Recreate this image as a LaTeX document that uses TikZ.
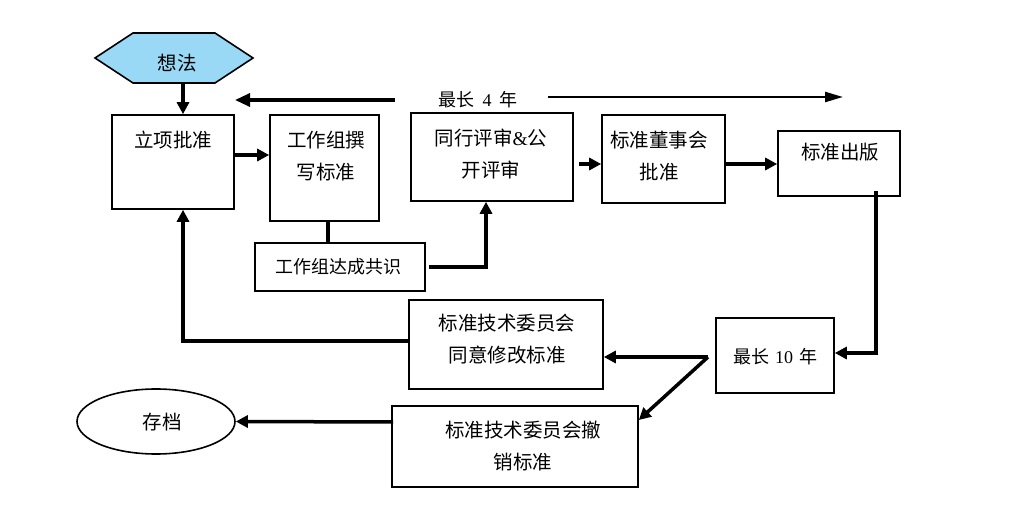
\documentclass[tikz,border=0pt]{standalone}
\usepackage{fontspec}
\setmainfont{Noto Sans CJK SC}
\newfontfamily\lat{Liberation Serif}
\usetikzlibrary{arrows.meta,shapes.geometric}
\definecolor{hexblue}{RGB}{153,217,245}
\begin{document}
\begin{tikzpicture}[x=1pt,y=-1pt,
  box/.style={draw, line width=1.6pt, inner sep=0pt},
  txt/.style={font=\fontsize{19.5}{32}\selectfont, align=center, inner sep=0pt},
  stxt/.style={font=\fontsize{18}{24}\selectfont, align=center, inner sep=0pt},
  tip/.style={-{Triangle[length=12pt,width=12pt]}},
  conn/.style={line width=3.5pt, tip},
  plain/.style={line width=3.5pt}]
\useasboundingbox (0,0) rectangle (1024,510);
% hexagon
\filldraw[fill=hexblue, line width=1.6pt, line join=miter]
  (95,58) -- (133,33) -- (215,33) -- (253,58) -- (215,83) -- (133,83) -- cycle;
\node[minimum width=158pt, minimum height=50pt, inner sep=0pt] (idea) at (174,58) {};
\node[txt] (ideat) at (177,63) {想法};
% boxes
\node[box, minimum width=122pt, minimum height=94pt] (lx) at (173,162) {};
\node[txt] (lxt) at (173,140) {立项批准};
\node[box, minimum width=109pt, minimum height=106pt] (gz) at (324.5,168) {};
\node[txt] (gzt) at (326,156) {工作组撰\\写标准};
\node[box, minimum width=170pt, minimum height=48pt] (gs) at (340,267) {};
\node[stxt] (gst) at (338,267) {工作组达成共识};
\node[box, minimum width=162pt, minimum height=88pt] (tp) at (492,157) {};
\node[txt] (tpt) at (491,154) {同行评审{\lat\&}公\\开评审};
\node[box, minimum width=123pt, minimum height=88pt] (dsh) at (663.5,159) {};
\node[txt] (dsht) at (659,156) {标准董事会\\批准};
\node[box, minimum width=122pt, minimum height=65pt] (cb) at (839,163.5) {};
\node[txt] (cbt) at (840,152) {标准出版};
\node[box, minimum width=118pt, minimum height=75pt] (zc) at (775,355.5) {};
\node[stxt] (zct) at (775,357) {最长\hspace{6pt}{\lat 10}\hspace{6pt}年};
\node[box, minimum width=194pt, minimum height=89pt] (ty) at (506,344.5) {};
\node[txt] (tyt) at (507,339) {标准技术委员会\\同意修改标准};
\node[box, minimum width=246pt, minimum height=81pt] (cx) at (515,446.5) {};
\node[txt] (cxt) at (523,446) {标准技术委员会撤\\销标准};
\node[draw, ellipse, line width=1.6pt, minimum width=158pt, minimum height=65pt, inner sep=0pt] (arc) at (156,421.5) {};
\node[txt] (arct) at (162,422) {存档};
% top span
\node[stxt] (span) at (478,100) {最长\hspace{8pt}{\lat 4}\hspace{8pt}年};
\coordinate (t1) at (395,100);
\coordinate (t2) at (235,100);
\coordinate (t3) at (548,97);
\coordinate (t4) at (843,97);
\draw[line width=3.2pt, -{Triangle[length=15pt,width=13pt]}] (t1) -- (t2);
\draw[line width=2.4pt, -{Triangle[length=18pt,width=10pt]}] (t3) -- (t4);
% connectors
\draw[conn] (idea.south -| 183,0) -- (lx.north -| 183,0);
\draw[conn] (lx.east |- 0,155) -- (gz.west |- 0,155);
\draw[plain] (gz.south -| 328,0) -- (gs.north -| 328,0);
\draw[conn] ([xshift=3pt]gs.east) -| (tp.south -| 486,0);
\draw[conn] ([xshift=5pt]tp.east |- 0,164) -- (dsh.west |- 0,164);
\draw[conn] (dsh.east |- 0,164) -- (cb.west |- 0,164);
\draw[conn] ([yshift=6pt]cb.south -| 876,0) |- (zc.east |- 0,353);
\coordinate (jn) at (708,357);
\draw[conn] (jn) -- (ty.east |- jn);
\draw[conn] (jn) -- (cx.east |- 0,420);
\draw[conn] (ty.west |- 0,341) -| (lx.south -| 183,0);
\draw[conn] ([xshift=2pt]cx.west |- 0,422) -- (arc.east);
\end{tikzpicture}
\end{document}
